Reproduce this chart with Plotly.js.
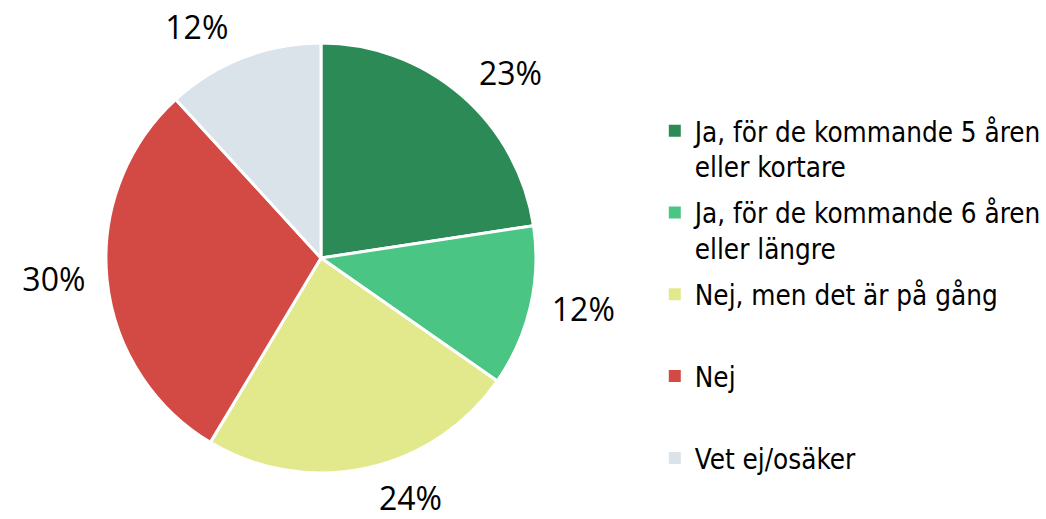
<!DOCTYPE html>
<html>
<head>
<meta charset="utf-8">
<script src="https://cdn.plot.ly/plotly-3.0.1.min.js"></script>
<style>html,body{margin:0;padding:0;background:#fff;}#chart{width:1046px;height:519px;}</style>
</head>
<body>
<div id="chart"></div>
<script>
// Data
const categories = [
  "Ja, för de kommande 5 åren<br>eller kortare",
  "Ja, för de kommande 6 åren<br>eller längre",
  "Nej, men det är på gång",
  "Nej",
  "Vet ej/osäker"
];
const shares = [22.6, 12.1, 23.9, 29.6, 11.8];
const colors = ["#2C8A57", "#4AC584", "#E2E98D", "#D34A45", "#DAE2EA"];

// Pad single-line legend entries so every entry takes the same height
const legendLabels = categories.map(c => c.includes("<br>") ? c : c + "<br> ");

// Visible pie (no text)
const pie = {
  type: "pie",
  labels: categories,
  values: shares,
  sort: false,
  direction: "clockwise",
  rotation: 0,
  marker: { colors: colors, line: { color: "#ffffff", width: 3 } },
  textinfo: "none",
  hoverinfo: "label+percent",
  domain: { x: [0.1013, 0.5124], y: [0.0886, 0.9171] },
  automargin: false,
  showlegend: false
};

// Same data on a slightly larger transparent pie, used only to place the
// percentage labels a little further from the slices, as in the reference
const labelPie = {
  type: "pie",
  labels: categories,
  values: shares,
  sort: false,
  direction: "clockwise",
  rotation: 0,
  marker: { colors: categories.map(() => "rgba(0,0,0,0)"), line: { width: 0 } },
  textposition: "outside",
  texttemplate: "%{percent:.0%}",
  outsidetextfont: { family: "Open Sans, sans-serif", size: 32, color: "#000000" },
  hoverinfo: "skip",
  domain: { x: [0.0908, 0.5229], y: [0.0713, 0.9422] },
  automargin: false,
  showlegend: false
};

// Legend entries (one per category, same colours as the slices)
const legendTraces = categories.map((c, i) => ({
  type: "scatter",
  mode: "markers",
  x: [null], y: [null],
  name: legendLabels[i],
  legendgroup: "g" + i,
  marker: { symbol: "square", size: 12, color: colors[i] },
  hoverinfo: "skip"
}));

const layout = {
  width: 1046,
  height: 519,
  margin: { l: 0, r: 0, t: 0, b: 0, autoexpand: false },
  paper_bgcolor: "#ffffff",
  plot_bgcolor: "#ffffff",
  xaxis: { visible: false },
  yaxis: { visible: false },
  showlegend: true,
  legend: {
    x: 0.626, xanchor: "left",
    y: 0.795, yanchor: "top",
    valign: "top",
    tracegroupgap: 7,
    itemwidth: 30,
    font: { family: "DejaVu Sans Condensed, DejaVu Sans, sans-serif", size: 27.6, color: "#000000" },
    bgcolor: "rgba(0,0,0,0)"
  }
};

Plotly.newPlot("chart", [labelPie, pie].concat(legendTraces), layout, { displayModeBar: false, staticPlot: true });
</script>
</body>
</html>
